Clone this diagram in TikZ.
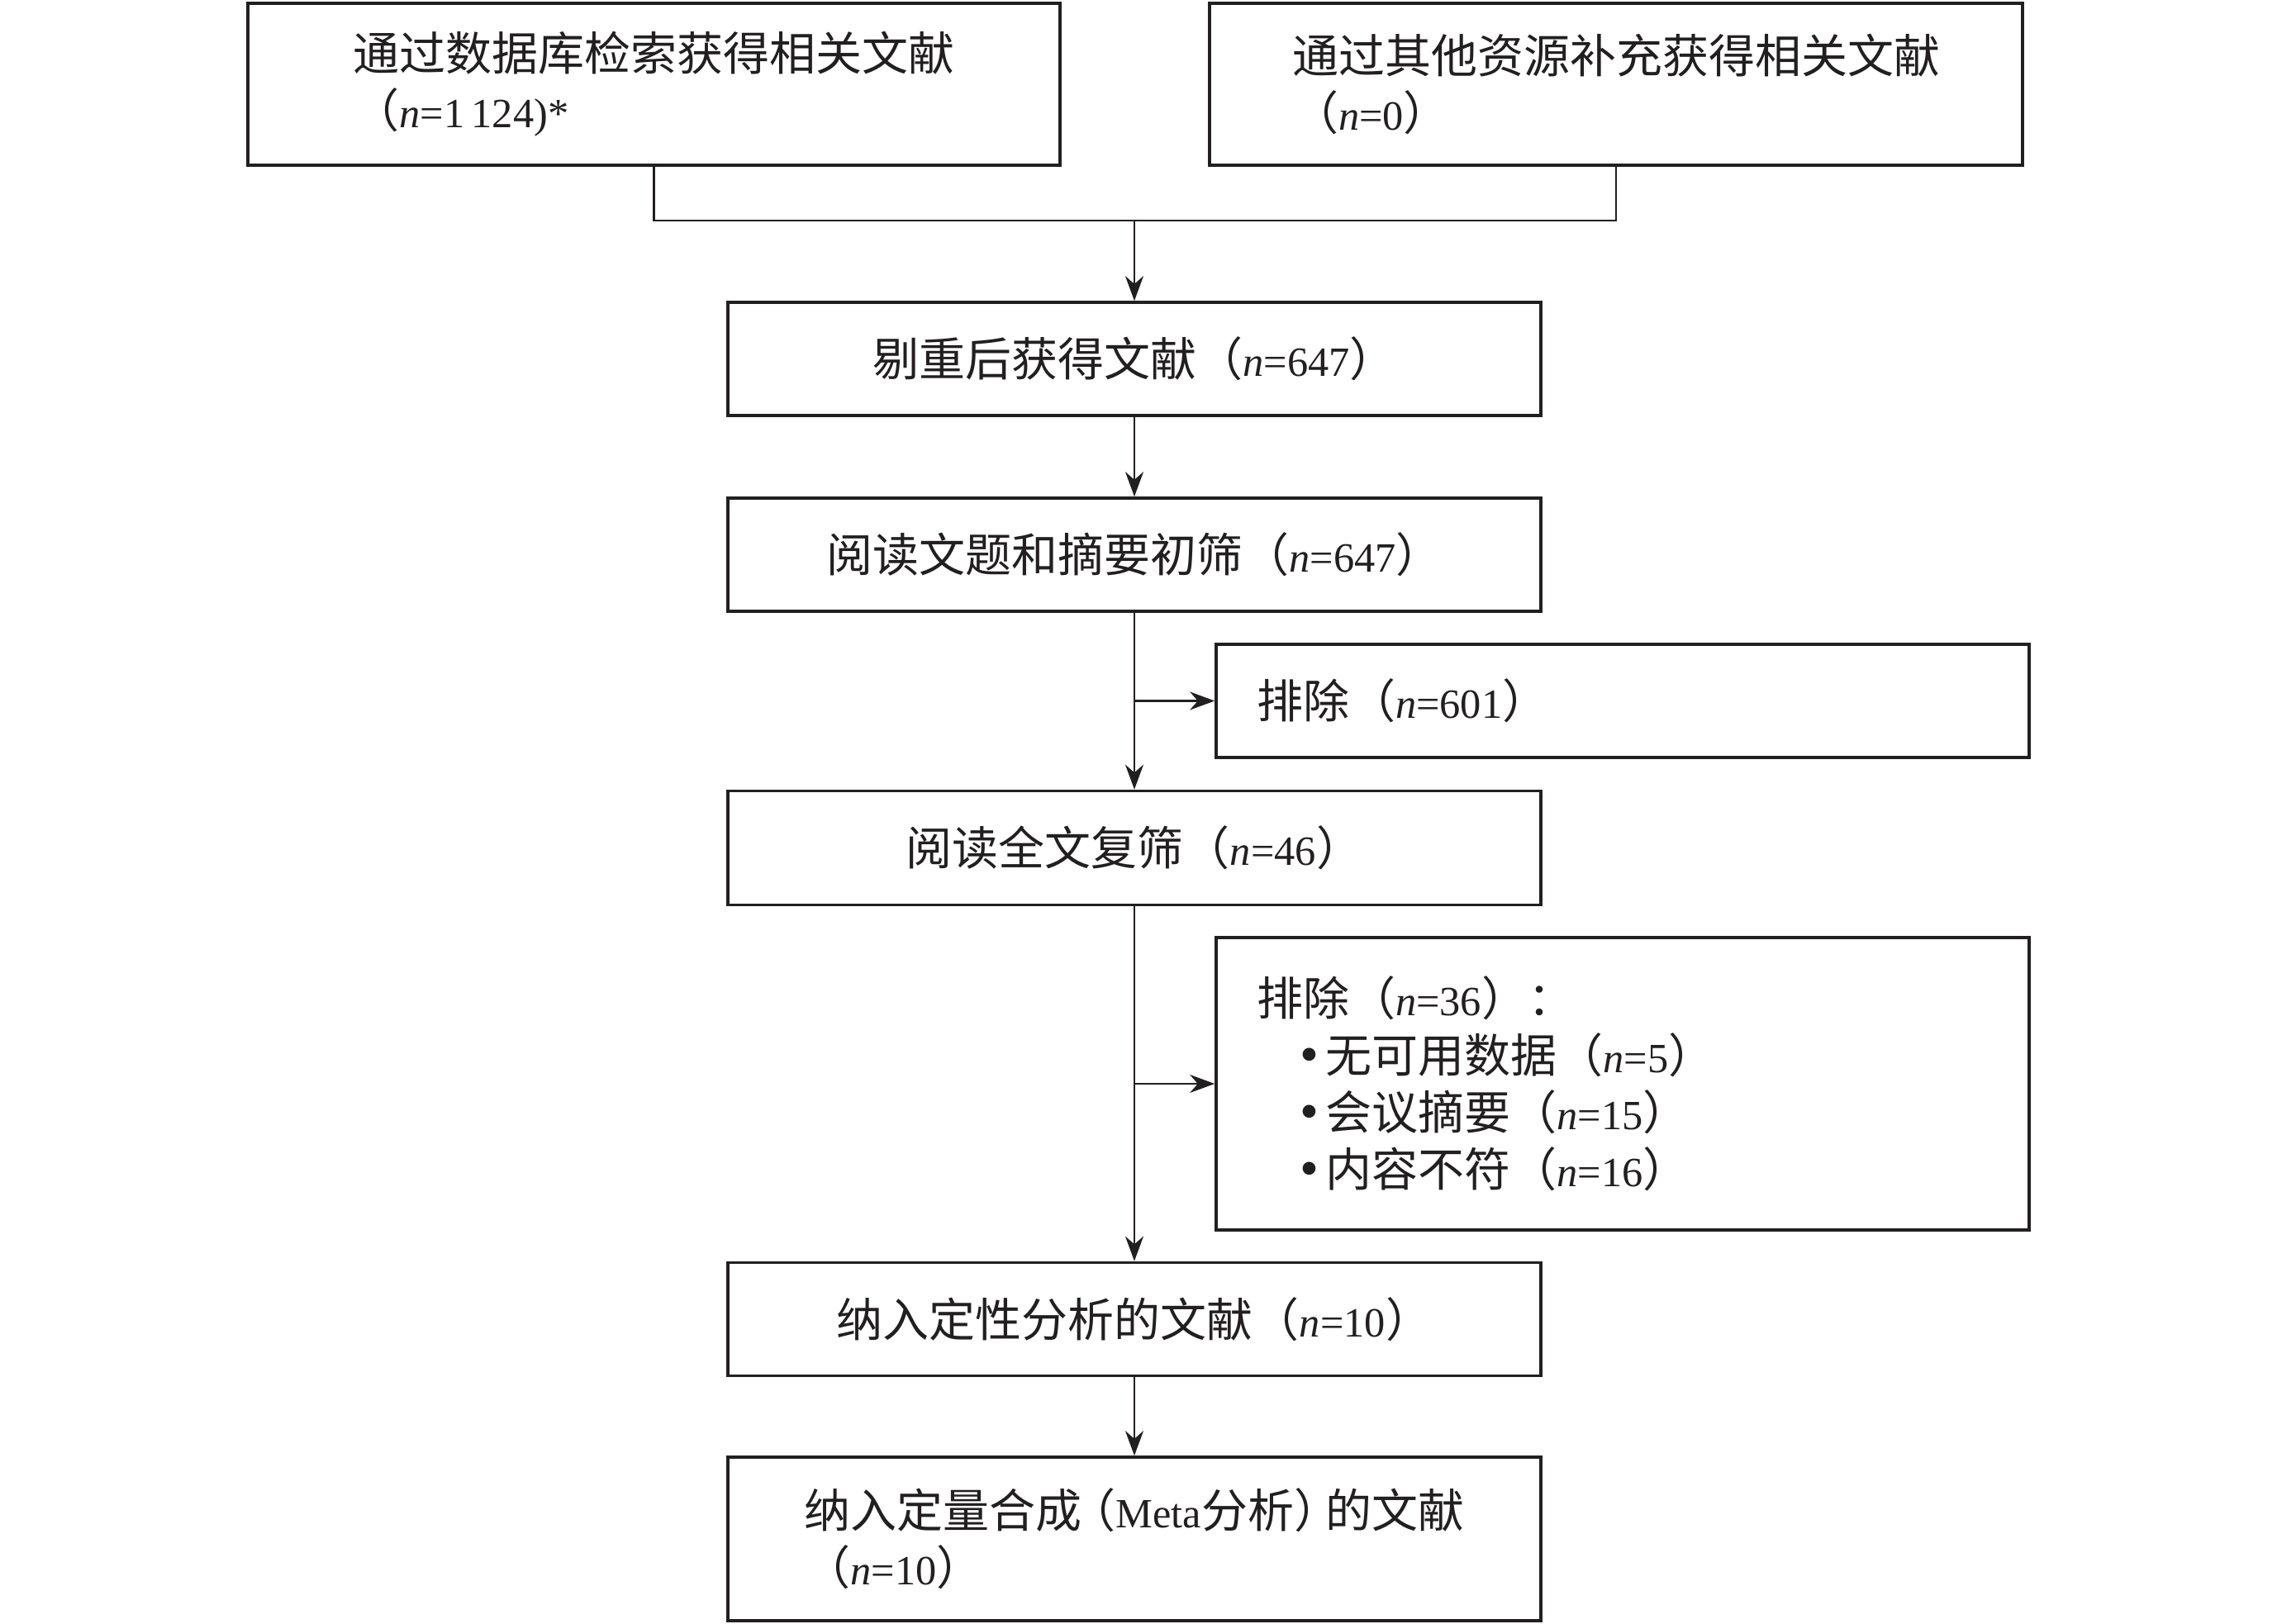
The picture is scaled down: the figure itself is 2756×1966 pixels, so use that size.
\documentclass[tikz,border=0pt]{standalone}
\usepackage{fontspec}
\setmainfont{Liberation Serif}[Scale=0.9]
\newfontfamily\cjk{Noto Sans CJK SC}
\usetikzlibrary{arrows.meta}
\definecolor{ink}{HTML}{231F20}
\newcommand{\zh}[1]{{\cjk #1}}
\newcommand{\nn}{\textit{n}}
\newcommand{\bul}{\hspace*{1.05em}\scalebox{1.3}{•}\hspace{0.15em}}
\begin{document}
\begin{tikzpicture}[x=0.25pt,y=-0.25pt,
  box/.style={draw=ink, line width=0.9pt, inner sep=0pt, text=ink,
    font=\fontsize{14}{17.25}\selectfont},
  wh/.style 2 args={minimum width=#1*0.25pt, minimum height=#2*0.25pt},
  exbox/.style={box, align=left, text width=221.5pt, inner xsep=12.25pt},
  link/.style={draw=ink, line width=0.6pt},
  arr/.style={link, -{Stealth[length=7.5pt,width=5.5pt,inset=2.4pt]}}]
\useasboundingbox (0,0) rectangle (2756,1966);

\node[box, wh={983}{196}, align=left] (tl) at (791.5,102)
  {\zh{通过数据库检索获得相关文献}\\\zh{（}\nn=1\,124)*};
\node[box, wh={984}{196}, align=left] (tr) at (1956,102)
  {\zh{通过其他资源补充获得相关文献}\\\zh{（}\nn=0\zh{）}};
\node[box, wh={984}{137}] (b2) at (1373,434.5)
  {\zh{剔重后获得文献（}\nn=647\zh{）}};
\node[box, wh={984}{137}] (b3) at (1373,671.5)
  {\zh{阅读文题和摘要初筛（}\nn=647\zh{）}};
\node[exbox, wh={984}{137}] (ex1) at (1964,848.5)
  {\zh{排除（}\nn=601\zh{）}};
\node[box, wh={984}{138}] (b4) at (1373,1026.5)
  {\zh{阅读全文复筛（}\nn=46\zh{）}};
\node[exbox, wh={984}{354}] (ex2) at (1964,1312)
  {\zh{排除（}\nn=36\zh{）：}\\
   \bul\zh{无可用数据（}\nn=5\zh{）}\\
   \bul\zh{会议摘要（}\nn=15\zh{）}\\
   \bul\zh{内容不符（}\nn=16\zh{）}};
\node[box, wh={984}{137}] (b5) at (1373,1597)
  {\zh{纳入定性分析的文献（}\nn=10\zh{）}};
\node[box, wh={984}{198}, align=left] (b6) at (1373,1863)
  {\zh{纳入定量合成}\hspace{-0.3em}\zh{（}Meta\zh{分析）}\hspace{-0.35em}\zh{的文献}\\\zh{（}\nn=10\zh{）}};

\coordinate (jl) at (791.5,267);
\coordinate (jr) at (1956,267);
\coordinate (jm) at (1373,267);
\coordinate (s1) at (1373,848.5);
\coordinate (s2) at (1373,1312);

\draw[link] (tl.south) -- (jl) -- (jr) -- (tr.south);
\draw[arr] (jm) -- (b2.north);
\draw[arr] (b2.south) -- (b3.north);
\draw[arr] (b3.south) -- (b4.north);
\draw[arr] (s1) -- (ex1.west);
\draw[arr] (b4.south) -- (b5.north);
\draw[arr] (s2) -- (ex2.west);
\draw[arr] (b5.south) -- (b6.north);
\end{tikzpicture}
\end{document}
